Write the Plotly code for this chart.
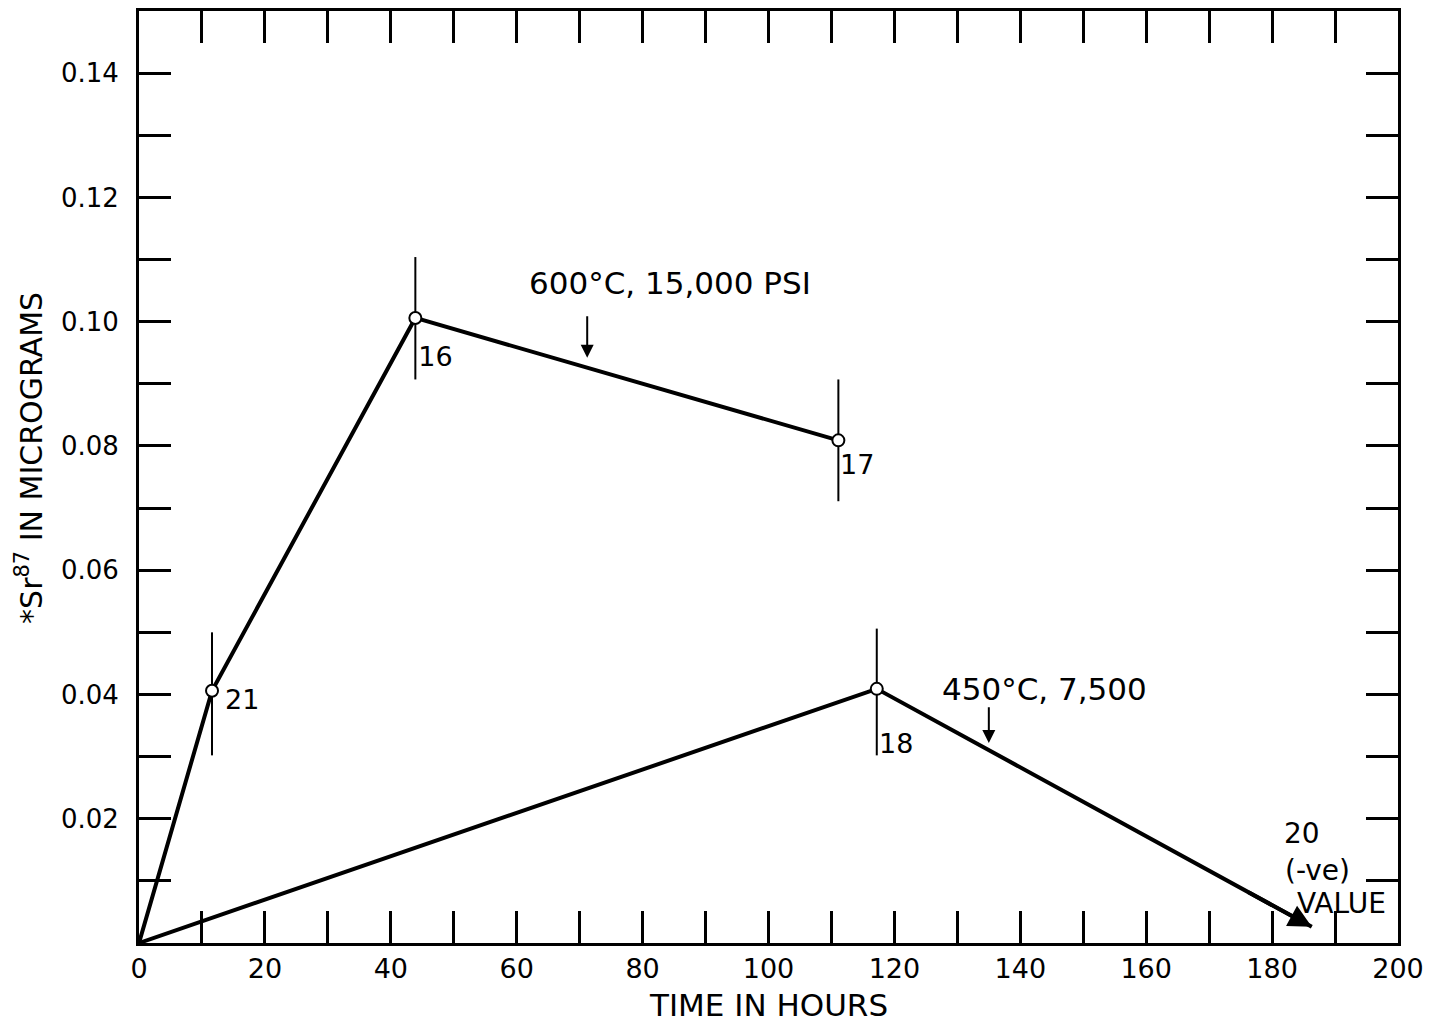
import plotly.graph_objects as go

# ---- data ----
s600_x = [0, 11.6, 43.9, 111.1]
s600_y = [0.0, 0.0406, 0.1006, 0.0809]
s600_err_plus = [0.0, 0.0094, 0.0098, 0.0098]
s600_err_minus = [0.0, 0.0104, 0.0099, 0.0098]

s450_x = [0, 117.2, 186.3]
s450_y = [0.0, 0.0409, 0.0026]
s450_err_plus = [0.0, 0.0097, 0.0]
s450_err_minus = [0.0, 0.0107, 0.0]

point_label_x = [16.4, 47.1, 114.1, 120.3]
point_label_y = [0.0387, 0.0939, 0.0766, 0.0316]
point_label_text = ["21", "16", "17", "18"]

x_tick_vals = list(range(0, 201, 10))
x_tick_text = [str(v) if v % 20 == 0 else "" for v in x_tick_vals]
y_tick_vals = [round(i * 0.01, 2) for i in range(0, 16)]
y_tick_text = ["" if (i % 2 == 1 or i == 0) else f"{i*0.01:.2f}" for i in range(0, 16)]

FONT = "DejaVu Sans"
BLACK = "black"

fig = go.Figure()

fig.add_trace(go.Scatter(
    x=s600_x, y=s600_y, mode="lines",
    line=dict(color=BLACK, width=4), showlegend=False, hoverinfo="skip"))
fig.add_trace(go.Scatter(
    x=s450_x, y=s450_y, mode="lines",
    line=dict(color=BLACK, width=4), showlegend=False, hoverinfo="skip"))

fig.add_trace(go.Scatter(
    x=s600_x[1:], y=s600_y[1:], mode="markers",
    marker=dict(symbol="circle", size=12, color="white", line=dict(color=BLACK, width=2)),
    error_y=dict(type="data", array=s600_err_plus[1:], arrayminus=s600_err_minus[1:],
                 width=0, thickness=2, color=BLACK),
    showlegend=False, hoverinfo="skip"))
fig.add_trace(go.Scatter(
    x=s450_x[1:2], y=s450_y[1:2], mode="markers",
    marker=dict(symbol="circle", size=12, color="white", line=dict(color=BLACK, width=2)),
    error_y=dict(type="data", array=s450_err_plus[1:2], arrayminus=s450_err_minus[1:2],
                 width=0, thickness=2, color=BLACK),
    showlegend=False, hoverinfo="skip"))

# point number labels
fig.add_trace(go.Scatter(
    x=point_label_x, y=point_label_y, mode="text", text=point_label_text,
    textfont=dict(family=FONT, size=27, color=BLACK), textposition="middle center",
    showlegend=False, hoverinfo="skip"))

annotations = []
annotations.append(dict(x=84.4, y=0.1063, xref="x", yref="y", text="600°C, 15,000 PSI",
                        showarrow=False, font=dict(family=FONT, size=31, color=BLACK)))
annotations.append(dict(x=143.9, y=0.0409, xref="x", yref="y", text="450°C, 7,500",
                        showarrow=False, font=dict(family=FONT, size=31, color=BLACK)))

# pointer arrows
annotations.append(dict(x=71.2, y=0.0942, ax=71.2, ay=0.1011, xref="x", yref="y",
                        axref="x", ayref="y", text="", showarrow=True,
                        arrowhead=2, arrowsize=1.3, arrowwidth=2, arrowcolor=BLACK))
annotations.append(dict(x=135.0, y=0.0322, ax=135.0, ay=0.0382, xref="x", yref="y",
                        axref="x", ayref="y", text="", showarrow=True,
                        arrowhead=2, arrowsize=1.3, arrowwidth=2, arrowcolor=BLACK))
annotations.append(dict(x=s450_x[2], y=s450_y[2], ax=176.0, ay=0.0083, xref="x", yref="y",
                        axref="x", ayref="y", text="", showarrow=True,
                        arrowhead=2, arrowsize=1.15, arrowwidth=4, arrowcolor=BLACK))

for nx, ny, t in [(184.7, 0.0177, "20"), (187.2, 0.0116, "(-ve)"), (191.1, 0.0063, "VALUE")]:
    annotations.append(dict(x=nx, y=ny, xref="x", yref="y", text=t, showarrow=False,
                            font=dict(family=FONT, size=28, color=BLACK)))

annotations.append(dict(x=0.5, y=-0.066, xref="paper", yref="paper", text="TIME IN HOURS",
                        showarrow=False, yanchor="middle",
                        font=dict(family=FONT, size=31, color=BLACK)))
annotations.append(dict(x=-0.087, y=0.521, xref="paper", yref="paper",
                        text="*Sr<sup>87</sup> IN MICROGRAMS", textangle=-90,
                        showarrow=False, xanchor="center", yanchor="middle",
                        font=dict(family=FONT, size=30, color=BLACK)))

fig.update_layout(
    width=1442, height=1024,
    margin=dict(l=139, r=44, t=8, b=81),
    paper_bgcolor="white", plot_bgcolor="white",
    annotations=annotations,
    showlegend=False,
)
fig.update_xaxes(
    range=[0, 200], tickmode="array", tickvals=x_tick_vals, ticktext=x_tick_text,
    ticks="inside", ticklen=32, tickwidth=2.5, tickcolor=BLACK,
    showline=True, linecolor=BLACK, linewidth=3, mirror="ticks",
    showgrid=False, zeroline=False,
    tickfont=dict(family=FONT, size=27, color=BLACK),
)
fig.update_yaxes(
    range=[0, 0.15], tickmode="array", tickvals=y_tick_vals, ticktext=y_tick_text,
    ticks="inside", ticklen=32, tickwidth=2.5, tickcolor=BLACK,
    showline=True, linecolor=BLACK, linewidth=3, mirror="ticks",
    showgrid=False, zeroline=False, ticklabelstandoff=12,
    tickfont=dict(family=FONT, size=26, color=BLACK),
)

fig.write_html("out.html")
